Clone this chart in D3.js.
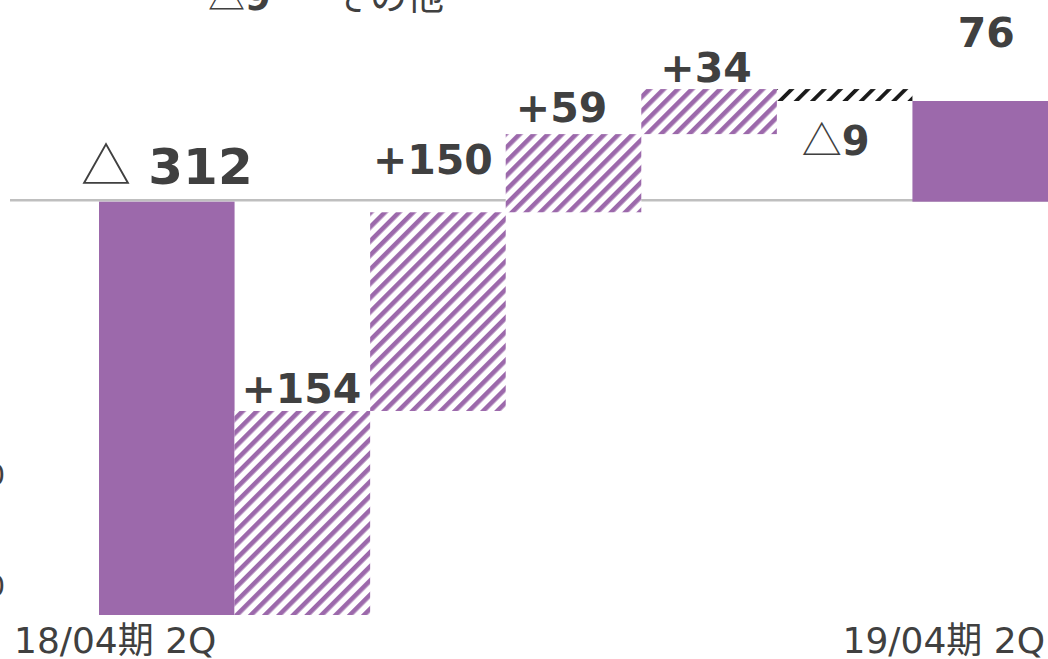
<!doctype html>
<html>
<head>
<meta charset="utf-8">
<script src="https://d3js.org/d3.v7.min.js"></script>
<style>
body { margin: 0; background: #fff; }
svg text { fill: #404040; }
</style>
</head>
<body>
<svg width="1048" height="659"></svg>
<script>
// waterfall steps, 18/04期 2Q -> 19/04期 2Q
var categories = ["18/04期 2Q", "step1", "step2", "step3", "step4", "その他", "19/04期 2Q"];
var values = [-312, 154, 150, 59, 34, -9, 76];
var kinds = ["total", "up", "up", "up", "up", "down", "total"];
var barLabels = ["△ 312", "+154", "+150", "+59", "+34", "△9", "76"];
var axisLabels = ["18/04期 2Q", "", "", "", "", "", "19/04期 2Q"];
var sideTicks = [-200, -300];

// label placement (px), kept apart from the data
var labelDx = [0, -1, -5, -12, -3, -9, 6];
var labelDy = [-18, -8, -38, -12, -7, 66, -54];
var labelSize = [50, 41, 41, 41, 41, 40, 41];

var purple = "#9c69ab";
var latin = "'DejaVu Sans', 'Noto Sans CJK JP', sans-serif";
var cjk = "'Noto Sans CJK JP', 'DejaVu Sans', sans-serif";

var svg = d3.select("svg");

// running totals
var run = 0;
var bars = values.map(function(v, i) {
    var d = {cat: categories[i], kind: kinds[i], value: v, label: barLabels[i], i: i};
    if (kinds[i] == "total") { d.y0 = 0; d.y1 = v; }
    else { d.y0 = run; d.y1 = run + v; }
    run = d.y1;
    return d;
});

var x = d3.scaleBand().domain(categories).range([99, 1048]).padding(0);
var y = d3.scaleLinear().domain([-312, 76]).range([615, 101]);
var ySide = d3.scaleLinear().domain([-200, -300]).range([475, 586]);

// hatch patterns
var defs = svg.append("defs");
function hatch(id, color, size, stripe) {
    var p = defs.append("pattern")
        .attr("id", id)
        .attr("patternUnits", "userSpaceOnUse")
        .attr("width", size).attr("height", size)
        .attr("patternTransform", "rotate(45)");
    p.append("rect").attr("width", size).attr("height", size).attr("fill", "#fff");
    p.append("rect").attr("width", stripe).attr("height", size).attr("fill", color);
}
hatch("hatchPurple", purple, 10, 4.6);
hatch("hatchBlack", "#1a1a1a", 11.5, 3.8);

// zero line
svg.append("line")
    .attr("x1", 10).attr("x2", 1048)
    .attr("y1", y(0) - 1.5).attr("y2", y(0) - 1.5)
    .attr("stroke", "#bfbfbf")
    .attr("stroke-width", 2.5);

// bars
svg.append("g")
    .selectAll("rect")
    .data(bars)
    .enter()
    .append("rect")
    .attr("x", d => x(d.cat))
    .attr("width", x.bandwidth())
    .attr("y", d => y(Math.max(d.y0, d.y1)))
    .attr("height", d => Math.abs(y(d.y0) - y(d.y1)))
    .attr("fill", d => d.kind == "total" ? purple : (d.kind == "up" ? "url(#hatchPurple)" : "url(#hatchBlack)"));

// value labels: △ drawn thin, numbers bold
var lab = svg.append("g")
    .selectAll("text")
    .data(bars)
    .enter()
    .append("text")
    .attr("x", d => x(d.cat) + x.bandwidth() / 2 + labelDx[d.i])
    .attr("y", d => y(Math.max(d.y0, d.y1)) + labelDy[d.i])
    .attr("text-anchor", "middle")
    .style("font-size", d => labelSize[d.i] + "px");

lab.each(function(d) {
    var t = d3.select(this);
    var s = d.label;
    if (s.charAt(0) == "△") {
        t.append("tspan").style("font-family", cjk).style("font-weight", 400).text("△");
        s = s.slice(1);
    }
    t.append("tspan").style("font-family", latin).style("font-weight", 700).text(s);
});

// note at top (mostly cut off in the original)
var note = svg.append("text")
    .attr("x", 208).attr("y", 10)
    .style("font-size", "37px");
note.append("tspan").style("font-family", cjk).text("△");
note.append("tspan").style("font-family", latin).style("font-weight", 700).text("9");
note.append("tspan").attr("x", 333).style("font-family", cjk).text("その他");

// category labels (only first and last)
svg.append("g")
    .selectAll("text")
    .data(bars.filter(d => axisLabels[d.i] != ""))
    .enter()
    .append("text")
    .attr("x", d => d.i == 0 ? x(d.cat) - 85 : x(d.cat) + x.bandwidth() - 3)
    .attr("y", 653)
    .attr("text-anchor", d => d.i == 0 ? "start" : "end")
    .style("font-family", latin)
    .style("font-size", "36px")
    .text(d => axisLabels[d.i]);

// left axis labels, clipped by the edge
svg.append("g")
    .selectAll("text")
    .data(sideTicks)
    .enter()
    .append("text")
    .attr("x", 5)
    .attr("y", d => ySide(d))
    .attr("dy", "0.36em")
    .attr("text-anchor", "end")
    .style("font-family", latin)
    .style("font-size", "28px")
    .text(d => Math.abs(d));
</script>
</body>
</html>
